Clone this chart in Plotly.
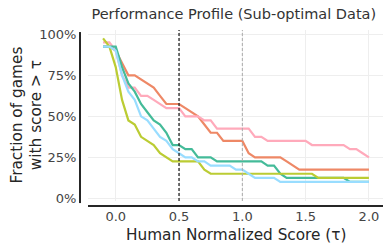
import numpy as np
import plotly.graph_objects as go

tau = [round(-0.1 + 0.05 * i, 2) for i in range(43)]

orange = [0.925, 0.925, 0.9, 0.825, 0.75, 0.75, 0.725, 0.7, 0.675, 0.625, 0.575, 0.575, 0.575,
          0.55, 0.525, 0.5, 0.45, 0.4, 0.4, 0.35, 0.35, 0.35, 0.35, 0.275, 0.25, 0.25, 0.25, 0.25,
          0.25, 0.225, 0.2, 0.175, 0.175, 0.175, 0.175, 0.175, 0.175, 0.175, 0.175, 0.175, 0.175,
          0.175, 0.175]
pink = [0.95, 0.95, 0.9, 0.75, 0.675, 0.675, 0.625, 0.625, 0.6, 0.575, 0.55, 0.55, 0.55,
        0.5, 0.5, 0.5, 0.475, 0.475, 0.425, 0.425, 0.425, 0.425, 0.425, 0.425, 0.375, 0.375, 0.35,
        0.35, 0.35, 0.35, 0.35, 0.35, 0.35, 0.325, 0.325, 0.325, 0.325, 0.325, 0.325, 0.3, 0.3,
        0.275, 0.25]
green = [0.925, 0.925, 0.925, 0.8, 0.7, 0.65, 0.575, 0.525, 0.475, 0.45, 0.4, 0.325, 0.325,
         0.3, 0.3, 0.25, 0.25, 0.25, 0.225, 0.225, 0.225, 0.225, 0.225, 0.225, 0.225, 0.225, 0.2,
         0.2, 0.15, 0.125, 0.125, 0.125, 0.125, 0.125, 0.125, 0.125, 0.125, 0.125, 0.125, 0.1, 0.1,
         0.1, 0.1]
blue = [0.925, 0.925, 0.9, 0.75, 0.65, 0.6, 0.5, 0.475, 0.425, 0.375, 0.35, 0.3, 0.275,
        0.25, 0.25, 0.225, 0.225, 0.2, 0.2, 0.2, 0.2, 0.175, 0.175, 0.15, 0.125, 0.125, 0.125,
        0.125, 0.1, 0.1, 0.1, 0.1, 0.1, 0.1, 0.1, 0.1, 0.1, 0.1, 0.1, 0.1, 0.1, 0.1, 0.1]
olive = [0.975, 0.925, 0.8, 0.6, 0.475, 0.45, 0.375, 0.35, 0.325, 0.275, 0.25, 0.225, 0.225,
         0.225, 0.225, 0.225, 0.175, 0.15, 0.15, 0.15, 0.15, 0.15, 0.15, 0.15, 0.15, 0.15, 0.15,
         0.15, 0.15, 0.15, 0.15, 0.15, 0.15, 0.15, 0.125, 0.125, 0.125, 0.125, 0.125, 0.125, 0.125,
         0.125, 0.125]

series = [("A", orange, "#EE8866"), ("B", pink, "#FFAABB"), ("C", green, "#44BB99"),
          ("D", olive, "#BBCC33"), ("E", blue, "#99DDFF")]

x_ticks = [0.0, 0.5, 1.0, 1.5, 2.0]
x_tick_text = ["0.0", "0.5", "1.0", "1.5", "2.0"]
y_ticks = [0, 0.25, 0.5, 0.75, 1.0]
y_tick_text = ["0%", "25%", "50%", "75%", "100%"]

FONT = "DejaVu Sans"
TXT = "#262626"

fig = go.Figure()
for name, vals, col in series:
    fig.add_trace(go.Scatter(x=tau, y=vals, mode="lines", name=name,
                             line=dict(color=col, width=2.2), showlegend=False))

fig.add_vline(x=0.5, line=dict(color="#222222", width=1.3, dash="3px,2px"))
fig.add_vline(x=1.0, line=dict(color="#AAAAAA", width=1, dash="3px,2px"))

# offset spines
fig.add_shape(type="line", xref="paper", yref="paper", x0=-0.0271, x1=-0.0271,
              y0=-0.012, y1=0.988, line=dict(color=TXT, width=2))
fig.add_shape(type="line", xref="paper", yref="paper", x0=0, x1=1,
              y0=-0.029, y1=-0.029, line=dict(color=TXT, width=2))

# axis titles
fig.add_annotation(text="Human Normalized Score (τ)", xref="paper", yref="paper",
                   x=0.502, y=-0.196, xanchor="center", yanchor="middle", showarrow=False,
                   font=dict(size=15.3, color=TXT))
fig.add_annotation(text="Fraction of games<br>with score > τ", xref="paper", yref="paper",
                   x=-0.21, y=0.5, xanchor="center", yanchor="middle", showarrow=False,
                   textangle=-90, font=dict(size=15.3, color=TXT))

fig.update_layout(
    width=391, height=247,
    margin=dict(l=88, r=8, t=30, b=46, autoexpand=False),
    paper_bgcolor="white", plot_bgcolor="white",
    font=dict(family=FONT, color=TXT, size=13),
    title=dict(text="Performance Profile (Sub-optimal Data)", x=0.598, xanchor="center",
               y=0.945, yanchor="middle", font=dict(size=14.5, color="#333333")),
)
fig.update_xaxes(range=[-0.219, 2.111], tickvals=x_ticks, ticktext=x_tick_text,
                 showgrid=True, gridcolor="#EEEEEE", gridwidth=1, zeroline=False,
                 showline=False, ticks="outside", ticklen=3, tickcolor="rgba(0,0,0,0)",
                 tickfont=dict(size=13, color="#444444"), automargin=False)
fig.update_yaxes(range=[-0.016, 1.026], tickvals=y_ticks, ticktext=y_tick_text,
                 showgrid=True, gridcolor="#EEEEEE", gridwidth=1, zeroline=False,
                 showline=False, ticks="outside", ticklen=8, tickcolor="rgba(0,0,0,0)",
                 tickfont=dict(size=13, color="#444444"), automargin=False)

fig.write_html("out.html", config={"displayModeBar": False})
with open("out.html", "r", encoding="utf-8") as f:
    html = f.read()
html = html.replace("<head>", "<head><style>html,body{margin:0;padding:0;overflow:hidden;}</style>", 1)
with open("out.html", "w", encoding="utf-8") as f:
    f.write(html)
